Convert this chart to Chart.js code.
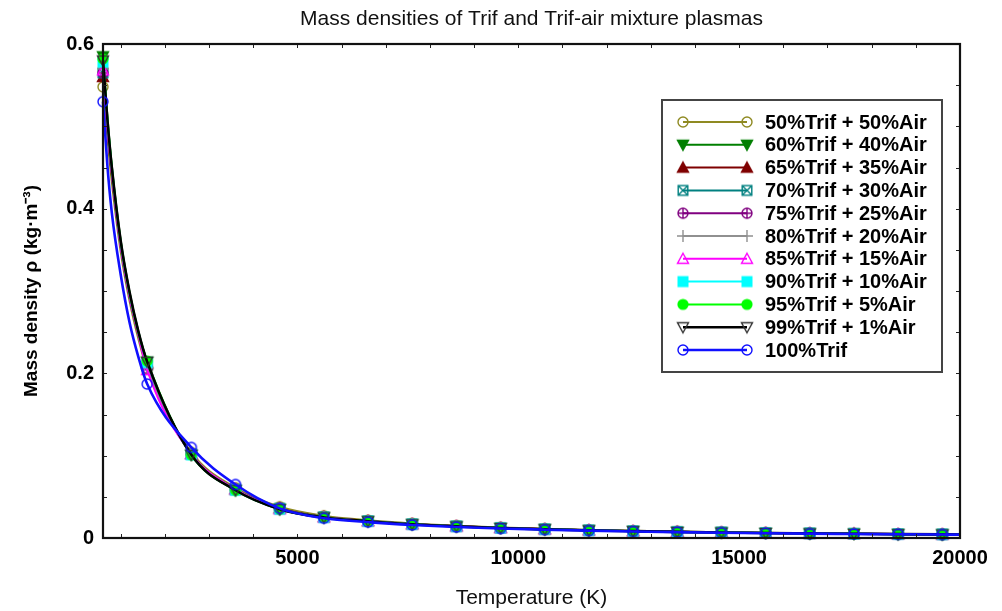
<!DOCTYPE html>
<html><head><meta charset="utf-8">
<script src="https://cdn.jsdelivr.net/npm/chart.js@4.4.0/dist/chart.umd.min.js"></script>
<style>html,body{margin:0;padding:0;background:#fff}#wrap{width:1002px;height:611px;position:relative}</style>
</head><body><div id="wrap"><canvas id="c" width="1002" height="611"></canvas></div>
<script>
// ---------- DATA ----------
const TEMPS = [600,700,800,1000,1200,1400,1600,2600,3600,4600,5600,6600,7600,8600,9600,10600,11600,12600,13600,14600,15600,16600,17600,18600,19600,20000];
const MARKER_TEMPS = [600,1600,2600,3600,4600,5600,6600,7600,8600,9600,10600,11600,12600,13600,14600,15600,16600,17600,18600,19600];
const SERIES_LABELS = ['50%Trif + 50%Air','60%Trif + 40%Air','65%Trif + 35%Air','70%Trif + 30%Air','75%Trif + 25%Air','80%Trif + 20%Air','85%Trif + 15%Air','90%Trif + 10%Air','95%Trif + 5%Air','99%Trif + 1%Air','100%Trif'];
const RHO_50  = [0.548,0.485,0.432,0.348,0.288,0.242,0.205,0.104,0.061,0.038,0.027,0.0215,0.0177,0.0150,0.0128,0.0112,0.0098,0.0087,0.0078,0.0070,0.0064,0.0058,0.0053,0.0049,0.0046,0.0045];
const RHO_60  = [0.585,0.512,0.452,0.362,0.299,0.251,0.214,0.101,0.058,0.035,0.025,0.0204,0.0167,0.0141,0.0121,0.0106,0.0093,0.0083,0.0074,0.0067,0.0061,0.0056,0.0051,0.0047,0.0044,0.0043];
const RHO_65  = [0.560,0.496,0.441,0.355,0.294,0.248,0.212,0.102,0.059,0.036,0.0255,0.0207,0.0169,0.0143,0.0123,0.0108,0.0095,0.0084,0.0075,0.0068,0.0062,0.0057,0.0052,0.0048,0.0045,0.0044];
const RHO_70  = [0.565,0.499,0.443,0.356,0.294,0.248,0.210,0.102,0.059,0.036,0.0255,0.0206,0.0169,0.0143,0.0123,0.0107,0.0094,0.0084,0.0075,0.0068,0.0062,0.0057,0.0052,0.0048,0.0045,0.0044];
const RHO_75  = [0.565,0.498,0.442,0.354,0.293,0.247,0.206,0.102,0.059,0.036,0.0253,0.0205,0.0168,0.0142,0.0122,0.0107,0.0094,0.0083,0.0075,0.0067,0.0061,0.0056,0.0052,0.0048,0.0045,0.0044];
const RHO_80  = [0.570,0.501,0.445,0.356,0.295,0.248,0.207,0.102,0.059,0.035,0.0252,0.0205,0.0168,0.0142,0.0122,0.0106,0.0094,0.0083,0.0074,0.0067,0.0061,0.0056,0.0051,0.0047,0.0044,0.0043];
const RHO_85  = [0.568,0.500,0.444,0.355,0.294,0.247,0.204,0.102,0.059,0.035,0.0251,0.0204,0.0167,0.0142,0.0122,0.0106,0.0093,0.0083,0.0074,0.0067,0.0061,0.0056,0.0051,0.0047,0.0044,0.0043];
const RHO_90  = [0.578,0.507,0.449,0.359,0.297,0.250,0.213,0.101,0.058,0.035,0.025,0.0204,0.0167,0.0141,0.0121,0.0106,0.0093,0.0083,0.0074,0.0067,0.0061,0.0056,0.0051,0.0047,0.0044,0.0043];
const RHO_95  = [0.582,0.509,0.450,0.360,0.298,0.250,0.215,0.101,0.058,0.035,0.025,0.0204,0.0167,0.0141,0.0121,0.0106,0.0093,0.0083,0.0074,0.0067,0.0061,0.0056,0.0051,0.0047,0.0044,0.0043];
const RHO_99  = [0.580,0.508,0.450,0.361,0.299,0.251,0.214,0.101,0.058,0.035,0.025,0.0204,0.0167,0.0141,0.0121,0.0106,0.0093,0.0083,0.0074,0.0067,0.0061,0.0056,0.0051,0.0047,0.0044,0.0043];
const RHO_100 = [0.530,0.452,0.395,0.320,0.262,0.220,0.187,0.110,0.065,0.036,0.024,0.0193,0.0158,0.0133,0.0115,0.0101,0.0089,0.0079,0.0071,0.0064,0.0058,0.0053,0.0049,0.0045,0.0042,0.0041];
const SERIES_VALUES = [RHO_50,RHO_60,RHO_65,RHO_70,RHO_75,RHO_80,RHO_85,RHO_90,RHO_95,RHO_99,RHO_100];
const X_TICKS = [1000,2000,3000,4000,5000,6000,7000,8000,9000,10000,11000,12000,13000,14000,15000,16000,17000,18000,19000,20000];
const X_TICK_LABELS = [5000,10000,15000,20000];
const Y_TICKS = [0,0.05,0.1,0.15,0.2,0.25,0.3,0.35,0.4,0.45,0.5,0.55,0.6];
const Y_TICK_LABELS = ['0','0.2','0.4','0.6'];

// ---------- STYLE ----------
const COLORS = ['#8f8a22','#007f00','#7f0000','#008080','#800080','#909090','#ff00ff','#00ffff','#00ff00','#000000','#1010ff'];
const MARKER_COLORS = ['#8f8a22','#007f00','#7f0000','#008080','#800080','#909090','#ff00ff','#00ffff','#00ff00','#333333','#1010ff'];
const MARKER_KINDS = ['circleOpen','triDownFilled','triUpFilled','boxX','circlePlus','plus','triUpOpen','squareFilled','circleFilled','triDownOpen','circleOpen'];
const LINE_WIDTHS = [2,2,2,2,2,2,2,2,2,2.6,2.6];
const FONT = "'Liberation Sans', Arial, sans-serif";

function makeMarker(kind, color) {
  const c = document.createElement('canvas'); c.width = 16; c.height = 16;
  const g = c.getContext('2d'); g.translate(8, 8);
  g.strokeStyle = color; g.fillStyle = color; g.lineWidth = 1.4;
  const r = 5;
  const tri = (up) => { g.beginPath(); const s = up ? 1 : -1; g.moveTo(0, -5.5*s); g.lineTo(5.5, 4.5*s); g.lineTo(-5.5, 4.5*s); g.closePath(); };
  switch (kind) {
    case 'circleOpen': g.beginPath(); g.arc(0,0,r,0,Math.PI*2); g.stroke(); break;
    case 'circleFilled': g.beginPath(); g.arc(0,0,r+0.6,0,Math.PI*2); g.fill(); break;
    case 'circlePlus': g.beginPath(); g.arc(0,0,r,0,Math.PI*2); g.moveTo(-r,0); g.lineTo(r,0); g.moveTo(0,-r); g.lineTo(0,r); g.stroke(); break;
    case 'plus': g.beginPath(); g.moveTo(-6,0); g.lineTo(6,0); g.moveTo(0,-6); g.lineTo(0,6); g.stroke(); break;
    case 'triUpFilled': tri(true); g.fill(); g.stroke(); break;
    case 'triDownFilled': tri(false); g.fill(); g.stroke(); break;
    case 'triUpOpen': tri(true); g.stroke(); break;
    case 'triDownOpen': tri(false); g.stroke(); break;
    case 'squareFilled': g.fillRect(-5.5,-5.5,11,11); break;
    case 'boxX': g.strokeRect(-4.8,-4.8,9.6,9.6); g.beginPath(); g.moveTo(-4.8,-4.8); g.lineTo(4.8,4.8); g.moveTo(4.8,-4.8); g.lineTo(-4.8,4.8); g.stroke(); break;
  }
  return c;
}
const MARKERS = MARKER_KINDS.map((k, i) => makeMarker(k, MARKER_COLORS[i]));

const datasets = SERIES_LABELS.map((label, i) => ({
  label,
  data: TEMPS.map((t, j) => ({x: t, y: SERIES_VALUES[i][j]})),
  borderColor: COLORS[i],
  backgroundColor: COLORS[i],
  borderWidth: LINE_WIDTHS[i],
  pointStyle: MARKERS[i],
  pointRadius: (ctx) => (ctx.raw && MARKER_TEMPS.includes(ctx.raw.x)) ? 5 : 0,
  cubicInterpolationMode: 'monotone',
  order: SERIES_LABELS.length - i,
  clip: 8
}));

const framePlugin = {
  id: 'frame',
  afterDatasetsDraw(chart) {
    const {ctx, chartArea: a, scales: {x, y}} = chart;
    ctx.save();
    ctx.strokeStyle = '#222'; ctx.lineWidth = 1;
    ctx.beginPath();
    X_TICKS.forEach(v => { const px = Math.round(x.getPixelForValue(v)) + 0.5; ctx.moveTo(px, a.bottom); ctx.lineTo(px, a.bottom - 4); ctx.moveTo(px, a.top); ctx.lineTo(px, a.top + 4); });
    Y_TICKS.forEach(v => { const py = Math.round(y.getPixelForValue(v)) + 0.5; ctx.moveTo(a.left, py); ctx.lineTo(a.left + 4, py); ctx.moveTo(a.right, py); ctx.lineTo(a.right - 4, py); });
    ctx.stroke();
    ctx.strokeStyle = '#111'; ctx.lineWidth = 2.2;
    ctx.strokeRect(a.left, a.top, a.right - a.left, a.bottom - a.top);
    ctx.restore();
  },
  afterDraw(chart) {
    const {ctx, chartArea: a} = chart;
    ctx.save();
    // title
    ctx.fillStyle = '#111';
    ctx.font = "21px " + FONT;
    ctx.textAlign = 'center'; ctx.textBaseline = 'middle';
    ctx.fillText('Mass densities of Trif and Trif-air mixture plasmas', (a.left + a.right) / 2, 19);
    // legend
    const bx = 662, by = 100, bw = 280, bh = 272;
    ctx.fillStyle = '#fff'; ctx.fillRect(bx, by, bw, bh);
    ctx.strokeStyle = '#444'; ctx.lineWidth = 2; ctx.strokeRect(bx, by, bw, bh);
    ctx.font = 'bold 20px ' + FONT; ctx.textAlign = 'left'; ctx.textBaseline = 'middle';
    chart.data.datasets.forEach((ds, i) => {
      const yy = 122 + i * 22.8;
      ctx.strokeStyle = ds.borderColor; ctx.lineWidth = ds.borderWidth;
      ctx.beginPath(); ctx.moveTo(683, yy); ctx.lineTo(747, yy); ctx.stroke();
      [683, 747].forEach(mx => ctx.drawImage(ds.pointStyle, mx - 8, yy - 8));
      ctx.fillStyle = '#000'; ctx.fillText(ds.label, 765, yy + 1);
    });
    ctx.restore();
  }
};

new Chart(document.getElementById('c'), {
  type: 'line',
  data: { datasets },
  options: {
    responsive: false, animation: false,
    layout: { padding: { top: 44, right: 42, bottom: 0, left: 0 } },
    plugins: { legend: { display: false }, title: { display: false }, tooltip: { enabled: false } },
    scales: {
      x: {
        type: 'linear', min: 600, max: 20000,
        afterFit: s => { s.height = 73; },
        afterBuildTicks: s => { s.ticks = X_TICKS.map(v => ({ value: v })); },
        grid: { display: false, drawTicks: false }, border: { display: false },
        ticks: { autoSkip: false, maxRotation: 0, padding: 8, color: '#000', font: { family: FONT, size: 20, weight: 'bold' },
                 callback: v => X_TICK_LABELS.includes(v) ? String(v) : '' },
        title: { display: true, text: 'Temperature (K)', color: '#111', padding: { top: 0, bottom: 0 }, font: { family: FONT, size: 21 } }
      },
      y: {
        type: 'linear', min: 0, max: 0.6,
        afterFit: s => { s.width = 103; },
        afterBuildTicks: s => { s.ticks = Y_TICKS.map(v => ({ value: v })); },
        grid: { display: false, drawTicks: false }, border: { display: false },
        ticks: { autoSkip: false, padding: 9, color: '#000', font: { family: FONT, size: 20, weight: 'bold' },
                 callback: (v) => { const l = Y_TICK_LABELS.find(s => Math.abs(parseFloat(s) - v) < 1e-9); return l === undefined ? '' : l; } },
        title: { display: true, text: 'Mass density ρ (kg·m⁻³)', color: '#000', padding: { top: 20, bottom: 0 }, font: { family: FONT, size: 19, weight: 'bold' } }
      }
    }
  },
  plugins: [framePlugin]
});
</script></body></html>
